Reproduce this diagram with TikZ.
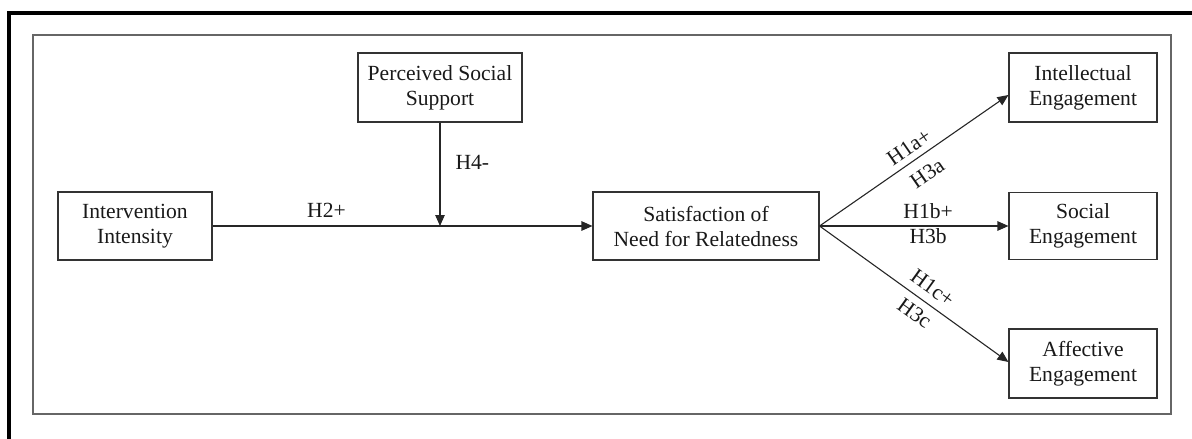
\documentclass[tikz,border=0pt]{standalone}
\usepackage{fontspec}
\setmainfont{Liberation Serif}
\usetikzlibrary{arrows.meta}
\begin{document}
\begin{tikzpicture}[x=1pt,y=-1pt,
  txt/.style={font=\fontsize{21.6}{25}\selectfont, text=black!90},
  box/.style={txt, draw=black!80, line width=1.1pt, align=center, inner sep=0pt},
  lbl/.style={txt, inner sep=0pt},
  arr/.style={line width=1.1pt, draw=black!85, -{Triangle[length=11pt,width=9.5pt]}}]
\useasboundingbox (0,0) rectangle (1192,439);
% outer frame (top and left only)
\fill[black] (7,11) rectangle (1192,15);
\fill[black] (7,11) rectangle (11,439);
% inner frame
\draw[draw=black!60, line width=1.2pt] (33,35) rectangle (1171,414);
% boxes
\node[box, minimum width=154pt, minimum height=68pt] (int) at (135,226) {Intervention\\Intensity};
\node[box, minimum width=164pt, minimum height=69pt] (pss) at (440,87.5) {Perceived Social\\Support};
\node[box, minimum width=226pt, minimum height=68pt] (sat) at (706,226) {Satisfaction of\\Need for Relatedness};
\node[box, minimum width=148pt, minimum height=69pt] (intel) at (1083,87.5) {Intellectual\\Engagement};
\node[box, minimum width=148pt, minimum height=67pt] (soc) at (1083,226) {Social\\Engagement};
\node[box, minimum width=148pt, minimum height=69pt] (aff) at (1083,363.5) {Affective\\Engagement};
% connectors
\draw[arr] (int.east) -- (sat.west) node[lbl, pos=0.30, above=8pt] {H2+};
\coordinate (m) at (pss.south |- int.east);
\draw[arr] (pss.south) -- (m) node[lbl, pos=0.385, right=15pt] {H4-};
\draw[arr] (sat.east) -- ([yshift=-7.5pt]intel.west)
  node[lbl, align=center, sloped, pos=0.515, above=-26pt] {H1a+\\[7pt]H3a};
\draw[arr] (sat.east) -- (soc.west)
  node[lbl, align=center, pos=0.575, above=-18pt] {H1b+\\H3b};
\draw[arr] (sat.east) -- ([yshift=1.5pt]aff.west)
  node[lbl, align=center, sloped, pos=0.55, above=-23pt] {H1c+\\[6pt]H3c};
\end{tikzpicture}
\end{document}
